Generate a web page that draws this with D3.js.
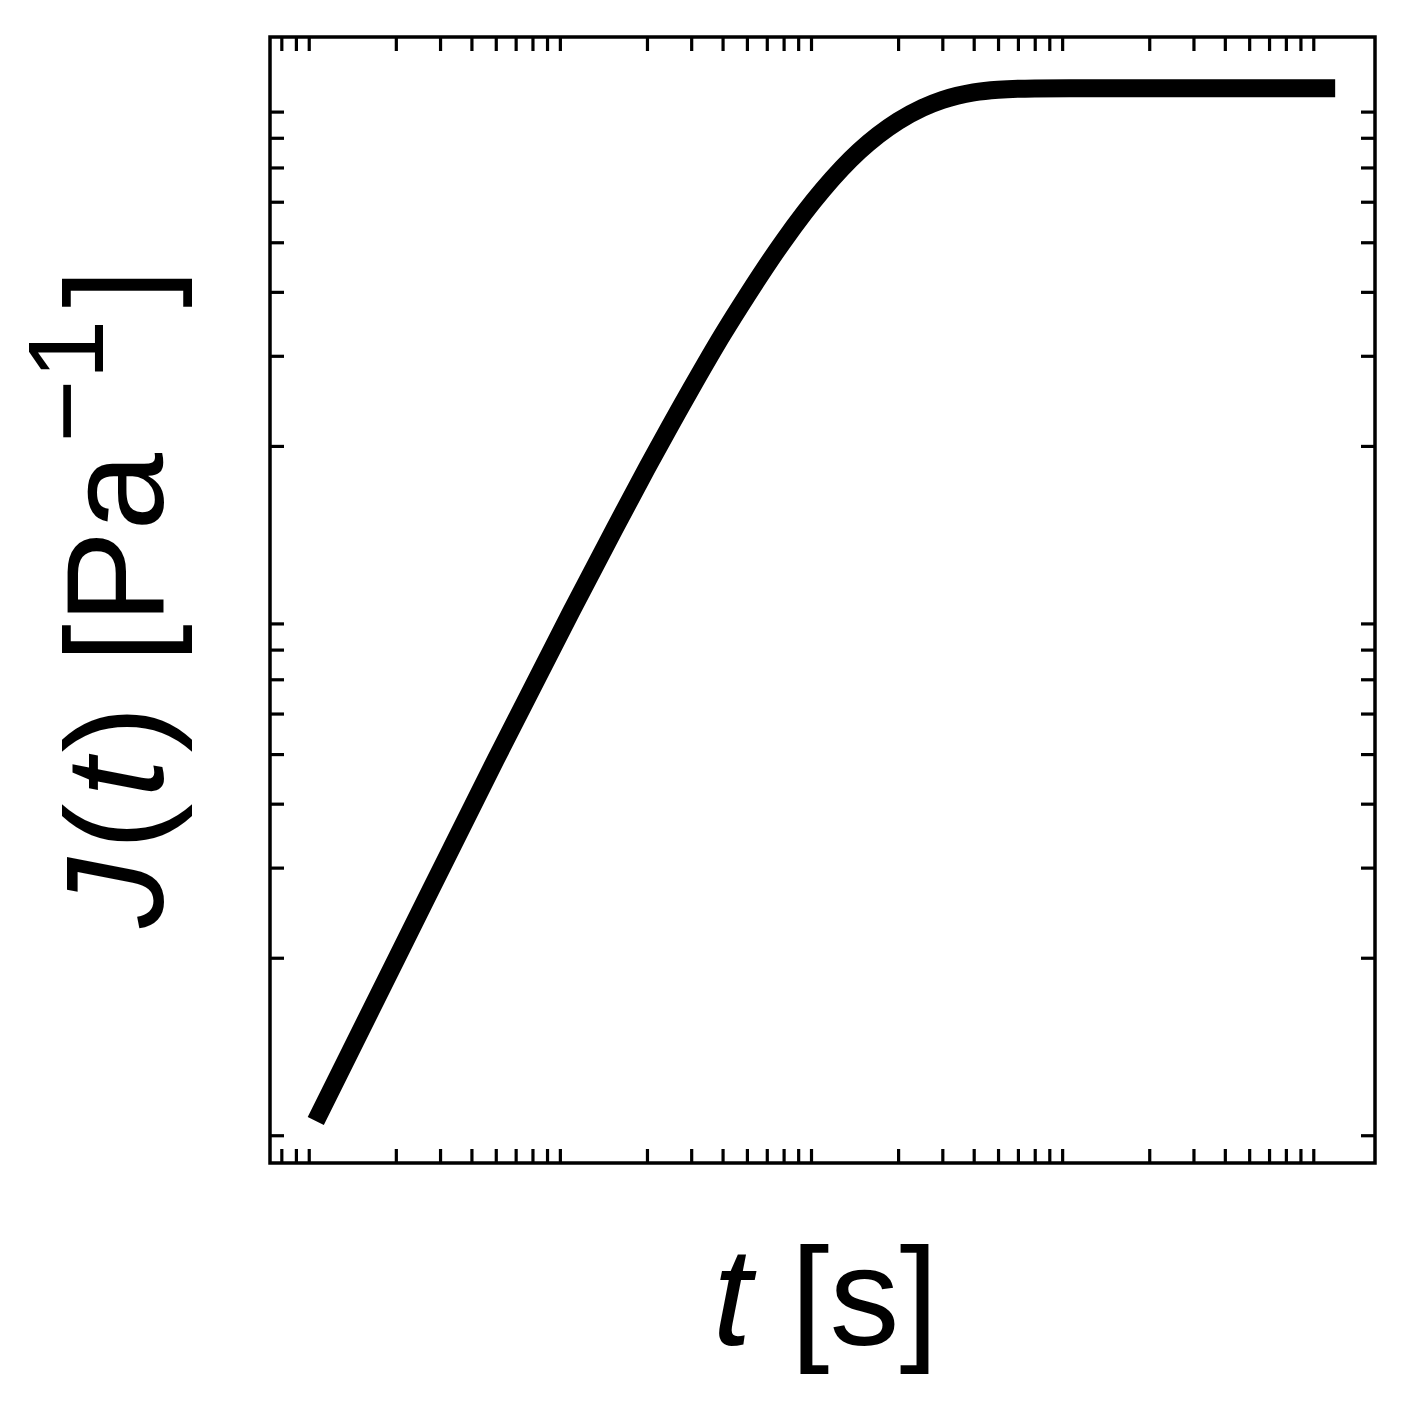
<!DOCTYPE html>
<html><head><meta charset="utf-8">
<script src="https://cdn.jsdelivr.net/npm/d3@7"></script>
<style>body{margin:0;background:#fff}svg{display:block}</style>
</head><body>
<svg id="chart" width="1412" height="1412"></svg>
<script>
// Data (arbitrary units: t in s, J in Pa^-1)
const timeValues = [0.0096, 0.02, 0.05, 0.1, 0.15, 0.2, 0.3, 0.4, 0.5, 0.7, 1.0, 1.4, 2.0, 2.5, 3.0, 4.0, 5.0, 7.0, 10, 20, 50, 110];
const complianceValues = [0.0096, 0.0198, 0.0488, 0.095, 0.139, 0.181, 0.259, 0.330, 0.393, 0.503, 0.632, 0.753, 0.862, 0.915, 0.948, 0.981, 0.993, 0.999, 1.0, 1.0, 1.0, 1.0];
const xLabelParts = [{text: "t", italic: true}, {text: " [s]", italic: false}];
const yLabelParts = [{text: "J", italic: true, dx: 0}, {text: "(", italic: false, dx: 8}, {text: "t", italic: true, dx: 6}, {text: ")", italic: false, dx: 6}, {text: " [Pa", italic: false, dx: 4}];
const yLabelSup = "\u22121";

(function () {
const mLeft = 270, mRight = 1375, mTop = 37, mBottom = 1163;

const svg = d3.select("#chart");
const x = d3.scaleLog().domain([Math.pow(10, -2.2), Math.pow(10, 2.2)]).range([mLeft, mRight]);
const y = d3.scaleLog().domain([Math.pow(10, -2.1), Math.pow(10, 0.1)]).range([mBottom, mTop]);

function minorTicks(scale) {
  const [a, b] = scale.domain();
  const r = scale.range();
  const out = [];
  for (let n = Math.floor(Math.log10(a)) - 1; n <= Math.ceil(Math.log10(b)); n++) {
    for (let k = 2; k <= 9; k++) {
      const v = k * Math.pow(10, n);
      const p = scale(v);
      if (v > a && v < b && Math.abs(p - r[0]) > 3 && Math.abs(p - r[1]) > 3) out.push(v);
    }
  }
  return out;
}
const xt = minorTicks(x), yt = minorTicks(y);
const TL = 14;

function styleAxis(g) {
  g.select(".domain").remove();
  g.selectAll(".tick line").attr("stroke", "#000").attr("stroke-width", 3.2);
  g.selectAll(".tick text").remove();
}
svg.append("g").attr("transform", `translate(0,${mBottom})`)
  .call(d3.axisBottom(x).tickValues(xt).tickSize(-TL).tickFormat("")).call(styleAxis);
svg.append("g").attr("transform", `translate(0,${mTop})`)
  .call(d3.axisTop(x).tickValues(xt).tickSize(-TL).tickFormat("")).call(styleAxis);
svg.append("g").attr("transform", `translate(${mLeft},0)`)
  .call(d3.axisLeft(y).tickValues(yt).tickSize(-TL).tickFormat("")).call(styleAxis);
svg.append("g").attr("transform", `translate(${mRight},0)`)
  .call(d3.axisRight(y).tickValues(yt).tickSize(-TL).tickFormat("")).call(styleAxis);

// curve
const data = timeValues.map((t, i) => ({t, J: complianceValues[i]}));
svg.append("clipPath").attr("id", "plotclip").append("rect")
  .attr("x", mLeft).attr("y", mTop).attr("width", mRight - mLeft).attr("height", mBottom - mTop);
svg.append("path").datum(data)
  .attr("clip-path", "url(#plotclip)")
  .attr("fill", "none").attr("stroke", "#000").attr("stroke-width", 18)
  .attr("stroke-linecap", "butt").attr("stroke-linejoin", "round")
  .attr("d", d3.line().x(d => x(d.t)).y(d => y(d.J)).curve(d3.curveMonotoneX));

// frame
svg.append("rect").attr("x", mLeft).attr("y", mTop).attr("width", mRight - mLeft).attr("height", mBottom - mTop)
  .attr("fill", "none").attr("stroke", "#000").attr("stroke-width", 3.5);

const FONT = "'Liberation Sans', Arial, Helvetica, sans-serif";
// x label
const xl = svg.append("text").attr("x", (mLeft + mRight) / 2 + 3).attr("y", 1345)
  .attr("text-anchor", "middle").attr("font-family", FONT).attr("font-size", 140).attr("fill", "#000");
xLabelParts.forEach(p => xl.append("tspan").attr("font-style", p.italic ? "italic" : "normal").text(p.text));

// y label
const yl = svg.append("text").attr("transform", `translate(163,928) rotate(-90)`)
  .attr("text-anchor", "start").attr("font-family", FONT).attr("font-size", 140).attr("fill", "#000");
yLabelParts.forEach(p => yl.append("tspan").attr("dx", p.dx).attr("font-style", p.italic ? "italic" : "normal").text(p.text));
yl.append("tspan").attr("font-size", 108).attr("dx", 10).attr("dy", -60).text(yLabelSup);
yl.append("tspan").attr("dx", 12).attr("dy", 60).text("]");
})();
</script>
</body></html>
